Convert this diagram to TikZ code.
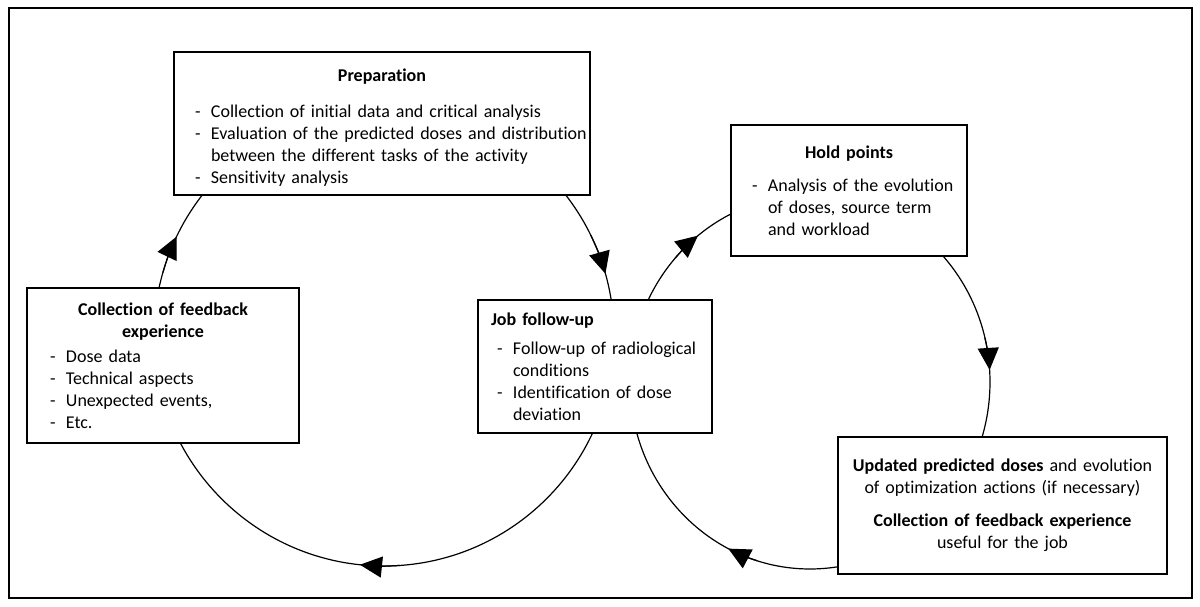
\documentclass[tikz,border=0pt]{standalone}
\usepackage{fontspec}
\setmainfont{Carlito}[Ligatures=NoCommon]
\usetikzlibrary{arrows.meta,backgrounds}
\newcommand{\dashline}[2]{\hspace*{#1pt}\makebox[16pt][l]{-}\mbox{#2}}
\newcommand{\contline}[2]{\hspace*{#1pt}\mbox{#2}}
\hbadness=10000
\hfuzz=100pt
\begin{document}
\begin{tikzpicture}[x=1pt,y=1pt,
  box/.style={draw, line width=1.5pt, fill=white, inner xsep=4pt, inner ysep=0pt,
    align=left, font=\fontsize{18}{22}\selectfont},
  loopline/.style={line width=1.2pt},
  tipline/.style={line width=1.2pt, -{Triangle[length=22pt,width=21pt]}}]
\useasboundingbox (0,0) rectangle (1200,606);
\draw[line width=2pt] (8.5,8.5) rectangle (1191.5,597.5);

\node[box, text width=408pt, minimum height=143pt] (prep) at (382,482.5) {%
\rule{0pt}{20pt}\makebox[\linewidth]{\textbf{Preparation}}\\[14pt]
\dashline{17}{Collection of initial data and critical analysis}\\
\dashline{17}{Evaluation of the predicted doses and distribution}\\
\contline{33}{between the different tasks of the activity}\\
\dashline{17}{Sensitivity analysis}};

\node[box, text width=228pt, minimum height=131pt] (hold) at (849,415.5) {%
\makebox[\linewidth]{\textbf{Hold points}}\\[11pt]
\dashline{17}{Analysis of the evolution}\\
\contline{33}{of doses, source term}\\
\contline{33}{and workload}};

\node[box, text width=264pt, minimum height=155pt] (coll) at (163,240.5) {%
\makebox[\linewidth]{\textbf{Collection of feedback}}\\
\makebox[\linewidth]{\textbf{experience}}\\[3pt]
\dashline{19}{Dose data}\\
\dashline{19}{Technical aspects}\\
\dashline{19}{Unexpected events,}\\
\dashline{19}{Etc.}};

\node[box, text width=226pt, minimum height=133pt] (job) at (595,239.5) {%
\hspace*{9pt}\textbf{Job follow-up}\\[7pt]
\dashline{15}{Follow-up of radiological}\\
\contline{31}{conditions}\\
\dashline{15}{Identification of dose}\\
\contline{31}{deviation}};

\node[box, align=center, text width=321pt, minimum height=137pt] (upd) at (1002.5,100.5) {%
\textbf{Updated predicted doses} and evolution\\
of optimization actions (if necessary)\\[11pt]
\textbf{Collection of feedback experience}\\
useful for the job};

\coordinate (lc) at (384,270);
\coordinate (rc) at (810,224);
\begin{pgfonlayer}{background}
\draw[loopline] (lc) circle[radius=230];
\draw[loopline] (rc) ellipse[x radius=180, y radius=187];
\draw[tipline] (lc) ++(274:230) arc[start angle=274, end angle=264, radius=230];
\draw[tipline] (lc) ++(164:230) arc[start angle=164, end angle=154.4, radius=230];
\draw[tipline] (lc) ++(26:230) arc[start angle=26, end angle=15.7, radius=230];
\draw[tipline] (rc) ++(138.5:180 and 187) arc[start angle=138.5, end angle=128.5, x radius=180, y radius=187];
\draw[tipline] (rc) ++(13.7:180 and 187) arc[start angle=13.7, end angle=3.7, x radius=180, y radius=187];
\draw[tipline] (rc) ++(253:180 and 187) arc[start angle=253, end angle=243, x radius=180, y radius=187];
\end{pgfonlayer}
\end{tikzpicture}
\end{document}
